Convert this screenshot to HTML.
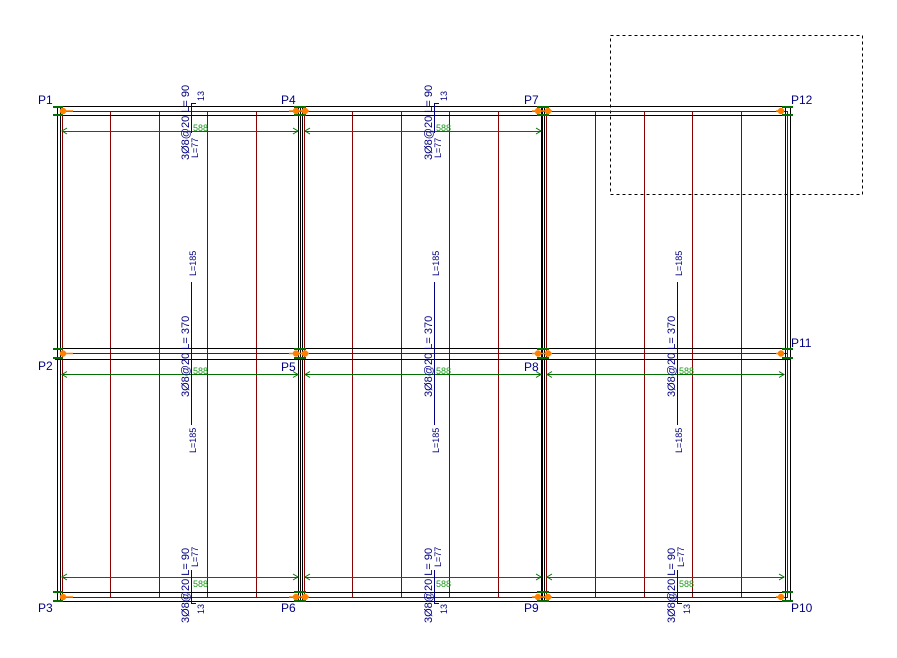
<!DOCTYPE html>
<html><head><meta charset="utf-8"><style>html,body{margin:0;padding:0;background:#fff;width:897px;height:658px;overflow:hidden}svg{display:block}text{font-family:"Liberation Sans",sans-serif}</style></head>
<body>
<svg width="897" height="658" viewBox="0 0 897 658" xmlns="http://www.w3.org/2000/svg">
<rect x="610.5" y="35.5" width="252" height="159" fill="none" stroke="#000" stroke-dasharray="3,3"/>
<g stroke="#8b0000" stroke-width="1" shape-rendering="crispEdges">
<line x1="110.5" y1="111" x2="110.5" y2="597"/><line x1="159.5" y1="111" x2="159.5" y2="597"/><line x1="207.5" y1="111" x2="207.5" y2="597"/><line x1="256.5" y1="111" x2="256.5" y2="597"/>
<line x1="352.5" y1="111" x2="352.5" y2="597"/><line x1="401.5" y1="111" x2="401.5" y2="597"/><line x1="449.5" y1="111" x2="449.5" y2="597"/><line x1="498.5" y1="111" x2="498.5" y2="597"/>
<line x1="595.5" y1="111" x2="595.5" y2="597"/><line x1="644.5" y1="111" x2="644.5" y2="597"/><line x1="692.5" y1="111" x2="692.5" y2="597"/><line x1="741.5" y1="111" x2="741.5" y2="597"/>
<line x1="62.5" y1="111" x2="62.5" y2="597"/><line x1="304.5" y1="111" x2="304.5" y2="597"/><line x1="546.5" y1="111" x2="546.5" y2="597"/><line x1="787.5" y1="111" x2="787.5" y2="597"/>
<line x1="60" y1="111.5" x2="788" y2="111.5"/><line x1="60" y1="353.5" x2="788" y2="353.5"/><line x1="60" y1="597.5" x2="788" y2="597.5"/>
</g>
<g stroke="#000" stroke-width="1" shape-rendering="crispEdges">
<line x1="55" y1="106.5" x2="791" y2="106.5"/><line x1="55" y1="115.5" x2="791" y2="115.5"/>
<line x1="55" y1="348.5" x2="791" y2="348.5"/><line x1="55" y1="359.5" x2="791" y2="359.5"/>
<line x1="55" y1="592.5" x2="791" y2="592.5"/><line x1="55" y1="601.5" x2="791" y2="601.5"/>
<line x1="57.5" y1="106" x2="57.5" y2="601"/><line x1="60.5" y1="106" x2="60.5" y2="601"/>
<line x1="298.5" y1="106" x2="298.5" y2="601"/><line x1="300.5" y1="106" x2="300.5" y2="601"/><line x1="302.5" y1="106" x2="302.5" y2="601"/>
<line x1="541.5" y1="106" x2="541.5" y2="601"/><line x1="542.5" y1="106" x2="542.5" y2="601"/><line x1="544.5" y1="106" x2="544.5" y2="601"/>
<line x1="785.5" y1="106" x2="785.5" y2="601"/><line x1="790.5" y1="106" x2="790.5" y2="601"/>
</g>
<g stroke="#007000" stroke-width="1" fill="none">
<line x1="62" y1="131.5" x2="298" y2="131.5"/><line x1="305" y1="131.5" x2="541" y2="131.5"/>
<line x1="62" y1="374.5" x2="298" y2="374.5"/><line x1="305" y1="374.5" x2="541" y2="374.5"/><line x1="547" y1="374.5" x2="784" y2="374.5"/>
<line x1="62" y1="577.5" x2="298" y2="577.5"/><line x1="305" y1="577.5" x2="541" y2="577.5"/><line x1="547" y1="577.5" x2="784" y2="577.5"/>
<path d="M67 128 L62 131 L67 134 M293 128 L298 131 L293 134 M310 128 L305 131 L310 134 M536 128 L541 131 L536 134"/>
<path d="M67 371.5 L62 374.5 L67 377.5 M293 371.5 L298 374.5 L293 377.5 M310 371.5 L305 374.5 L310 377.5 M536 371.5 L541 374.5 L536 377.5 M552 371.5 L547 374.5 L552 377.5 M779 371.5 L784 374.5 L779 377.5"/>
<path d="M67 574 L62 577 L67 580 M293 574 L298 577 L293 580 M310 574 L305 577 L310 580 M536 574 L541 577 L536 580 M552 574 L547 577 L552 580 M779 574 L784 577 L779 580"/>
</g>
<g stroke="#007000" stroke-width="2">
<path d="M53 107h10M53 115h10M294 107h12M294 115h12M537 107h12M537 115h12M782 107h11M782 115h11"/>
<path d="M53 349h10M53 358h10M294 349h12M294 358h12M537 349h12M537 358h12M782 349h11M782 358h11"/>
<path d="M53 592h10M53 601h10M294 592h12M294 601h12M537 592h12M537 601h12M782 592h11M782 601h11"/>
</g>
<g stroke="#ff8000" stroke-width="1.5" fill="#ff8000">
<path d="M62 111h11M289 111h20M532 111h20M776 111h8"/>
<path d="M62 353.5h11M289 353.5h20M532 353.5h20M776 353.5h8"/>
<path d="M62 597h11M289 597h20M532 597h20M776 597h8"/>
<circle cx="63" cy="111" r="2.5"/><circle cx="296" cy="111" r="2.5"/><circle cx="305" cy="111" r="2.5"/><circle cx="538" cy="111" r="2.5"/><circle cx="548" cy="111" r="2.5"/><circle cx="781" cy="111" r="2.5"/>
<circle cx="63" cy="353.5" r="2.5"/><circle cx="296" cy="353.5" r="2.5"/><circle cx="305" cy="353.5" r="2.5"/><circle cx="538" cy="353.5" r="2.5"/><circle cx="548" cy="353.5" r="2.5"/><circle cx="781" cy="353.5" r="2.5"/>
<circle cx="63" cy="597" r="2.5"/><circle cx="296" cy="597" r="2.5"/><circle cx="305" cy="597" r="2.5"/><circle cx="538" cy="597" r="2.5"/><circle cx="548" cy="597" r="2.5"/><circle cx="781" cy="597" r="2.5"/>
</g>
<g fill="#000080" font-size="12">
<text x="38" y="104">P1</text><text x="281" y="104">P4</text><text x="524" y="104">P7</text><text x="791" y="104">P12</text>
<text x="38" y="370">P2</text><text x="281" y="371">P5</text><text x="524" y="371">P8</text><text x="791" y="347">P11</text>
<text x="38" y="612">P3</text><text x="281" y="612">P6</text><text x="524" y="612">P9</text><text x="791" y="612">P10</text>
</g>
<g id="b1">
<g stroke="#000080" stroke-width="1" fill="none" shape-rendering="crispEdges">
<path d="M196 103.5H191.5V133"/><path d="M191.5 282V425"/><path d="M191.5 570V603.5H196"/>
</g>
<g fill="#000080" font-size="11">
<text transform="translate(189 160) rotate(-90)">3Ø8@20 L= 90</text>
<text transform="translate(189 397) rotate(-90)">3Ø8@20 L= 370</text>
<text transform="translate(189 623) rotate(-90)">3Ø8@20 L= 90</text>
</g>
<g fill="#000080" font-size="9">
<text transform="translate(198 158) rotate(-90)">L=77</text>
<text transform="translate(204 101) rotate(-90)">13</text>
<text transform="translate(196 276) rotate(-90)">L=185</text>
<text transform="translate(196 453) rotate(-90)">L=185</text>
<text transform="translate(198 567) rotate(-90)">L=77</text>
<text transform="translate(204 614) rotate(-90)">13</text>
</g>
<g fill="#1a9a1a" font-size="9">
<text x="193" y="131">588</text><text x="193" y="374">588</text><text x="193" y="587">588</text>
</g>
</g>
<use href="#b1" transform="translate(243 0)"/>
<g transform="translate(486 0)">
<g stroke="#000080" stroke-width="1" fill="none" shape-rendering="crispEdges"><path d="M191.5 282V425"/><path d="M191.5 570V603.5H196"/></g>
<g fill="#000080" font-size="11">
<text transform="translate(189 397) rotate(-90)">3Ø8@20 L= 370</text>
<text transform="translate(189 623) rotate(-90)">3Ø8@20 L= 90</text>
</g>
<g fill="#000080" font-size="9">
<text transform="translate(196 276) rotate(-90)">L=185</text>
<text transform="translate(196 453) rotate(-90)">L=185</text>
<text transform="translate(198 567) rotate(-90)">L=77</text>
<text transform="translate(204 614) rotate(-90)">13</text>
</g>
<g fill="#1a9a1a" font-size="9"><text x="193" y="374">588</text><text x="193" y="587">588</text></g>
</g>
</svg>
</body></html>
